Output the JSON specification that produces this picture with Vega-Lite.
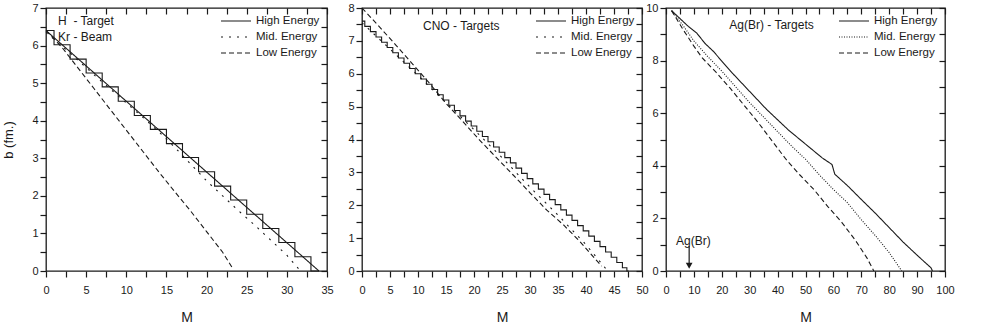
{
  "$schema": "https://vega.github.io/schema/vega-lite/v6.json",
  "padding": {"left": 2, "top": 1, "right": 0, "bottom": 0},
  "background": "white",
  "bounds": "flush",
  "spacing": 0,
  "config": {
    "font": "Liberation Sans",
    "view": {"stroke": "#1a1a1a", "strokeWidth": 1.3},
    "axis": {"grid": false, "domain": false, "ticks": true, "tickColor": "#1a1a1a", "tickWidth": 1.2, "tickSize": 6, "labelOverlap": false, "labelColor": "#1a1a1a", "titleColor": "#1a1a1a", "labelFontSize": 11, "titleFontSize": 14, "titleFontWeight": "normal", "labelFont": "Liberation Sans", "titleFont": "Liberation Sans"},
    "axisX": {"labelPadding": 7, "titlePadding": 15, "labelFlush": false},
    "axisY": {"labelPadding": 2, "titlePadding": 16, "titleFontSize": 13, "labelFlush": false},
    "legend": {"orient": "top-right", "offset": 7, "symbolType": "stroke", "symbolSize": 900, "symbolStrokeWidth": 1.1, "symbolStrokeColor": "#1a1a1a", "labelFontSize": 11.5, "labelColor": "#1a1a1a", "labelOffset": 4, "clipHeight": 12, "rowPadding": 4, "labelLimit": 200},
    "line": {"color": "#1a1a1a", "strokeWidth": 1.1},
    "text": {"color": "#1a1a1a"}
  },
  "resolve": {"scale": {"strokeDash": "independent"}, "legend": {"strokeDash": "independent"}},
  "datasets": {
    "p1": [
      {"series": "High Energy", "style": "line", "M": 0, "b": 6.4},
      {"series": "High Energy", "style": "line", "M": 34, "b": 0},
      {"series": "High Energy", "style": "step", "M": 0, "b": 6.4},
      {"series": "High Energy", "style": "step", "M": 2, "b": 6.02},
      {"series": "High Energy", "style": "step", "M": 4, "b": 5.64},
      {"series": "High Energy", "style": "step", "M": 6, "b": 5.27},
      {"series": "High Energy", "style": "step", "M": 8, "b": 4.9},
      {"series": "High Energy", "style": "step", "M": 10, "b": 4.52},
      {"series": "High Energy", "style": "step", "M": 12, "b": 4.14},
      {"series": "High Energy", "style": "step", "M": 14, "b": 3.77},
      {"series": "High Energy", "style": "step", "M": 16, "b": 3.39},
      {"series": "High Energy", "style": "step", "M": 18, "b": 3.02},
      {"series": "High Energy", "style": "step", "M": 20, "b": 2.64},
      {"series": "High Energy", "style": "step", "M": 22, "b": 2.26},
      {"series": "High Energy", "style": "step", "M": 24, "b": 1.89},
      {"series": "High Energy", "style": "step", "M": 26, "b": 1.51},
      {"series": "High Energy", "style": "step", "M": 28, "b": 1.13},
      {"series": "High Energy", "style": "step", "M": 30, "b": 0.76},
      {"series": "High Energy", "style": "step", "M": 32, "b": 0.38},
      {"series": "High Energy", "style": "step", "M": 34, "b": 0},
      {"series": "Mid. Energy", "style": "line", "M": 0, "b": 6.35},
      {"series": "Mid. Energy", "style": "line", "M": 3, "b": 5.8},
      {"series": "Mid. Energy", "style": "line", "M": 6, "b": 5.22},
      {"series": "Mid. Energy", "style": "line", "M": 9, "b": 4.66},
      {"series": "Mid. Energy", "style": "line", "M": 12, "b": 4.1},
      {"series": "Mid. Energy", "style": "line", "M": 14, "b": 3.72},
      {"series": "Mid. Energy", "style": "line", "M": 16, "b": 3.3},
      {"series": "Mid. Energy", "style": "line", "M": 18, "b": 2.85},
      {"series": "Mid. Energy", "style": "line", "M": 20, "b": 2.4},
      {"series": "Mid. Energy", "style": "line", "M": 22, "b": 2.0},
      {"series": "Mid. Energy", "style": "line", "M": 24, "b": 1.6},
      {"series": "Mid. Energy", "style": "line", "M": 26, "b": 1.22},
      {"series": "Mid. Energy", "style": "line", "M": 28, "b": 0.82},
      {"series": "Mid. Energy", "style": "line", "M": 30, "b": 0.42},
      {"series": "Mid. Energy", "style": "line", "M": 31.5, "b": 0.05},
      {"series": "Low Energy", "style": "line", "M": 0, "b": 6.4},
      {"series": "Low Energy", "style": "line", "M": 2, "b": 5.95},
      {"series": "Low Energy", "style": "line", "M": 4, "b": 5.4},
      {"series": "Low Energy", "style": "line", "M": 6, "b": 4.85},
      {"series": "Low Energy", "style": "line", "M": 8, "b": 4.3},
      {"series": "Low Energy", "style": "line", "M": 10, "b": 3.75},
      {"series": "Low Energy", "style": "line", "M": 12, "b": 3.2},
      {"series": "Low Energy", "style": "line", "M": 14, "b": 2.65},
      {"series": "Low Energy", "style": "line", "M": 16, "b": 2.12},
      {"series": "Low Energy", "style": "line", "M": 18, "b": 1.6},
      {"series": "Low Energy", "style": "line", "M": 20, "b": 1.05},
      {"series": "Low Energy", "style": "line", "M": 22, "b": 0.5},
      {"series": "Low Energy", "style": "line", "M": 23.3, "b": 0.05}
    ],
    "p2": [
      {"series": "High Energy", "style": "step", "M": 0, "b": 7.6},
      {"series": "High Energy", "style": "step", "M": 1, "b": 7.44},
      {"series": "High Energy", "style": "step", "M": 2, "b": 7.28},
      {"series": "High Energy", "style": "step", "M": 3, "b": 7.12},
      {"series": "High Energy", "style": "step", "M": 4, "b": 6.96},
      {"series": "High Energy", "style": "step", "M": 5, "b": 6.8},
      {"series": "High Energy", "style": "step", "M": 6, "b": 6.64},
      {"series": "High Energy", "style": "step", "M": 7, "b": 6.48},
      {"series": "High Energy", "style": "step", "M": 8, "b": 6.32},
      {"series": "High Energy", "style": "step", "M": 9, "b": 6.16},
      {"series": "High Energy", "style": "step", "M": 10, "b": 6.0},
      {"series": "High Energy", "style": "step", "M": 11, "b": 5.84},
      {"series": "High Energy", "style": "step", "M": 12, "b": 5.68},
      {"series": "High Energy", "style": "step", "M": 13, "b": 5.52},
      {"series": "High Energy", "style": "step", "M": 14, "b": 5.36},
      {"series": "High Energy", "style": "step", "M": 15, "b": 5.2},
      {"series": "High Energy", "style": "step", "M": 16, "b": 5.04},
      {"series": "High Energy", "style": "step", "M": 17, "b": 4.88},
      {"series": "High Energy", "style": "step", "M": 18, "b": 4.72},
      {"series": "High Energy", "style": "step", "M": 19, "b": 4.56},
      {"series": "High Energy", "style": "step", "M": 20, "b": 4.41},
      {"series": "High Energy", "style": "step", "M": 21, "b": 4.25},
      {"series": "High Energy", "style": "step", "M": 22, "b": 4.09},
      {"series": "High Energy", "style": "step", "M": 23, "b": 3.93},
      {"series": "High Energy", "style": "step", "M": 24, "b": 3.77},
      {"series": "High Energy", "style": "step", "M": 25, "b": 3.61},
      {"series": "High Energy", "style": "step", "M": 26, "b": 3.45},
      {"series": "High Energy", "style": "step", "M": 27, "b": 3.29},
      {"series": "High Energy", "style": "step", "M": 28, "b": 3.13},
      {"series": "High Energy", "style": "step", "M": 29, "b": 2.97},
      {"series": "High Energy", "style": "step", "M": 30, "b": 2.81},
      {"series": "High Energy", "style": "step", "M": 31, "b": 2.65},
      {"series": "High Energy", "style": "step", "M": 32, "b": 2.49},
      {"series": "High Energy", "style": "step", "M": 33, "b": 2.33},
      {"series": "High Energy", "style": "step", "M": 34, "b": 2.17},
      {"series": "High Energy", "style": "step", "M": 35, "b": 2.02},
      {"series": "High Energy", "style": "step", "M": 36, "b": 1.86},
      {"series": "High Energy", "style": "step", "M": 37, "b": 1.7},
      {"series": "High Energy", "style": "step", "M": 38, "b": 1.54},
      {"series": "High Energy", "style": "step", "M": 39, "b": 1.38},
      {"series": "High Energy", "style": "step", "M": 40, "b": 1.22},
      {"series": "High Energy", "style": "step", "M": 41, "b": 1.06},
      {"series": "High Energy", "style": "step", "M": 42, "b": 0.9},
      {"series": "High Energy", "style": "step", "M": 43, "b": 0.74},
      {"series": "High Energy", "style": "step", "M": 44, "b": 0.58},
      {"series": "High Energy", "style": "step", "M": 45, "b": 0.42},
      {"series": "High Energy", "style": "step", "M": 46, "b": 0.26},
      {"series": "High Energy", "style": "step", "M": 47, "b": 0.1},
      {"series": "High Energy", "style": "step", "M": 47.6, "b": 0},
      {"series": "Mid. Energy", "style": "line", "M": 0, "b": 7.55},
      {"series": "Mid. Energy", "style": "line", "M": 5, "b": 6.75},
      {"series": "Mid. Energy", "style": "line", "M": 10, "b": 5.95},
      {"series": "Mid. Energy", "style": "line", "M": 15, "b": 5.12},
      {"series": "Mid. Energy", "style": "line", "M": 20, "b": 4.3},
      {"series": "Mid. Energy", "style": "line", "M": 25, "b": 3.45},
      {"series": "Mid. Energy", "style": "line", "M": 30, "b": 2.55},
      {"series": "Mid. Energy", "style": "line", "M": 35, "b": 1.7},
      {"series": "Mid. Energy", "style": "line", "M": 40, "b": 0.8},
      {"series": "Mid. Energy", "style": "line", "M": 43.5, "b": 0.08},
      {"series": "Low Energy", "style": "line", "M": 0, "b": 8.0},
      {"series": "Low Energy", "style": "line", "M": 3, "b": 7.45},
      {"series": "Low Energy", "style": "line", "M": 6, "b": 6.88},
      {"series": "Low Energy", "style": "line", "M": 9, "b": 6.3},
      {"series": "Low Energy", "style": "line", "M": 12, "b": 5.72},
      {"series": "Low Energy", "style": "line", "M": 15, "b": 5.1},
      {"series": "Low Energy", "style": "line", "M": 18, "b": 4.55},
      {"series": "Low Energy", "style": "line", "M": 21, "b": 3.98},
      {"series": "Low Energy", "style": "line", "M": 24, "b": 3.45},
      {"series": "Low Energy", "style": "line", "M": 27, "b": 2.92},
      {"series": "Low Energy", "style": "line", "M": 30, "b": 2.38},
      {"series": "Low Energy", "style": "line", "M": 33, "b": 1.85},
      {"series": "Low Energy", "style": "line", "M": 36, "b": 1.4},
      {"series": "Low Energy", "style": "line", "M": 39, "b": 0.88},
      {"series": "Low Energy", "style": "line", "M": 42, "b": 0.3},
      {"series": "Low Energy", "style": "line", "M": 42.8, "b": 0.15}
    ],
    "p3": [
      {"series": "High Energy", "style": "line", "M": 2, "b": 9.9},
      {"series": "High Energy", "style": "line", "M": 5, "b": 9.6},
      {"series": "High Energy", "style": "line", "M": 8, "b": 9.3},
      {"series": "High Energy", "style": "line", "M": 11, "b": 9.05},
      {"series": "High Energy", "style": "line", "M": 14, "b": 8.65},
      {"series": "High Energy", "style": "line", "M": 17, "b": 8.35},
      {"series": "High Energy", "style": "line", "M": 20, "b": 7.98},
      {"series": "High Energy", "style": "line", "M": 24, "b": 7.5},
      {"series": "High Energy", "style": "line", "M": 28, "b": 7.05},
      {"series": "High Energy", "style": "line", "M": 32, "b": 6.6},
      {"series": "High Energy", "style": "line", "M": 36, "b": 6.15},
      {"series": "High Energy", "style": "line", "M": 40, "b": 5.75},
      {"series": "High Energy", "style": "line", "M": 44, "b": 5.35},
      {"series": "High Energy", "style": "line", "M": 48, "b": 5.0},
      {"series": "High Energy", "style": "line", "M": 52, "b": 4.65},
      {"series": "High Energy", "style": "line", "M": 56, "b": 4.3},
      {"series": "High Energy", "style": "line", "M": 59.5, "b": 4.05},
      {"series": "High Energy", "style": "line", "M": 60.5, "b": 3.68},
      {"series": "High Energy", "style": "line", "M": 65, "b": 3.25},
      {"series": "High Energy", "style": "line", "M": 70, "b": 2.72},
      {"series": "High Energy", "style": "line", "M": 75, "b": 2.2},
      {"series": "High Energy", "style": "line", "M": 80, "b": 1.65},
      {"series": "High Energy", "style": "line", "M": 85, "b": 1.1},
      {"series": "High Energy", "style": "line", "M": 90, "b": 0.6},
      {"series": "High Energy", "style": "line", "M": 95, "b": 0.12},
      {"series": "High Energy", "style": "line", "M": 95.5, "b": 0},
      {"series": "Mid. Energy", "style": "line", "M": 2, "b": 9.9},
      {"series": "Mid. Energy", "style": "line", "M": 6, "b": 9.35},
      {"series": "Mid. Energy", "style": "line", "M": 10, "b": 8.75},
      {"series": "Mid. Energy", "style": "line", "M": 15, "b": 8.15},
      {"series": "Mid. Energy", "style": "line", "M": 20, "b": 7.6},
      {"series": "Mid. Energy", "style": "line", "M": 25, "b": 7.0},
      {"series": "Mid. Energy", "style": "line", "M": 30, "b": 6.4},
      {"series": "Mid. Energy", "style": "line", "M": 35, "b": 5.85},
      {"series": "Mid. Energy", "style": "line", "M": 40, "b": 5.3},
      {"series": "Mid. Energy", "style": "line", "M": 45, "b": 4.75},
      {"series": "Mid. Energy", "style": "line", "M": 50, "b": 4.25},
      {"series": "Mid. Energy", "style": "line", "M": 55, "b": 3.65},
      {"series": "Mid. Energy", "style": "line", "M": 60, "b": 3.1},
      {"series": "Mid. Energy", "style": "line", "M": 65, "b": 2.6},
      {"series": "Mid. Energy", "style": "line", "M": 70, "b": 1.95},
      {"series": "Mid. Energy", "style": "line", "M": 75, "b": 1.35},
      {"series": "Mid. Energy", "style": "line", "M": 80, "b": 0.7},
      {"series": "Mid. Energy", "style": "line", "M": 84.5, "b": 0},
      {"series": "Low Energy", "style": "line", "M": 2, "b": 9.9},
      {"series": "Low Energy", "style": "line", "M": 6, "b": 9.2},
      {"series": "Low Energy", "style": "line", "M": 10, "b": 8.55},
      {"series": "Low Energy", "style": "line", "M": 13, "b": 8.1},
      {"series": "Low Energy", "style": "line", "M": 18, "b": 7.55},
      {"series": "Low Energy", "style": "line", "M": 23, "b": 6.95},
      {"series": "Low Energy", "style": "line", "M": 28, "b": 6.3},
      {"series": "Low Energy", "style": "line", "M": 33, "b": 5.65},
      {"series": "Low Energy", "style": "line", "M": 38, "b": 4.95},
      {"series": "Low Energy", "style": "line", "M": 43, "b": 4.25},
      {"series": "Low Energy", "style": "line", "M": 48, "b": 3.65},
      {"series": "Low Energy", "style": "line", "M": 53, "b": 3.1},
      {"series": "Low Energy", "style": "line", "M": 58, "b": 2.45},
      {"series": "Low Energy", "style": "line", "M": 63, "b": 1.85},
      {"series": "Low Energy", "style": "line", "M": 68, "b": 1.15},
      {"series": "Low Energy", "style": "line", "M": 72, "b": 0.5},
      {"series": "Low Energy", "style": "line", "M": 74.5, "b": 0}
    ],
    "a1": [
      {"label": "H\u00a0\u00a0- Target", "M": 1.5, "b": 6.65},
      {"label": "Kr - Beam", "M": 1.5, "b": 6.22}
    ],
    "a2": [
      {"label": "CNO - Targets", "M": 10.9, "b": 7.45}
    ],
    "a3": [
      {"label": "Ag(Br) - Targets", "M": 22.7, "b": 9.35},
      {"label": "Ag(Br)", "M": 3.6, "b": 1.14}
    ],
    "arrow": [
      {"M": 8.3, "b": 0.95, "b2": 0.2}
    ]
  },
  "hconcat": [
    {
      "width": 281,
      "height": 263,
      "layer": [
        {
          "data": {"name": "p1"},
          "transform": [{"filter": "datum.style == 'line'"}],
          "mark": {"type": "line"},
          "encoding": {
            "x": {"field": "M", "type": "quantitative", "scale": {"domain": [0, 35], "nice": false, "zero": false}, "axis": {"orient": "bottom", "title": "M", "ticks": true, "tickSize": 6, "labelOverlap": false, "values": [0, 2.5, 5, 7.5, 10, 12.5, 15, 17.5, 20, 22.5, 25, 27.5, 30, 32.5, 35], "labelExpr": "datum.value % 5 == 0 ? format(datum.value, 'd') : ''"}},
            "y": {"field": "b", "type": "quantitative", "scale": {"domain": [0, 7], "nice": false}, "axis": {"orient": "left", "title": "b (fm.)", "ticks": true, "tickSize": 6, "labelOverlap": false, "values": [0, 0.5, 1, 1.5, 2, 2.5, 3, 3.5, 4, 4.5, 5, 5.5, 6, 6.5, 7], "labelExpr": "datum.value % 1 == 0 ? format(datum.value, 'd') : ''"}},
            "strokeDash": {"field": "series", "type": "nominal", "sort": null, "scale": {"domain": ["High Energy", "Mid. Energy", "Low Energy"], "range": [[1, 0], [2, 6], [5, 3]]}, "legend": {"title": null, "clipHeight": 12, "rowPadding": 4}},
            "detail": {"field": "series"}
          }
        },
        {
          "data": {"name": "p1"},
          "transform": [{"filter": "datum.style == 'step'"}],
          "mark": {"type": "line", "interpolate": "step"},
          "encoding": {
            "x": {"field": "M", "type": "quantitative", "axis": null},
            "y": {"field": "b", "type": "quantitative", "axis": null},
            "strokeDash": {"field": "series", "type": "nominal", "sort": null},
            "detail": {"field": "series"}
          }
        },
        {
          "data": {"name": "a1"},
          "mark": {"type": "text", "align": "left", "baseline": "middle", "fontSize": 12},
          "encoding": {
            "x": {"field": "M", "type": "quantitative", "axis": null},
            "y": {"field": "b", "type": "quantitative", "axis": null},
            "text": {"field": "label"}
          }
        },
        {
          "data": {"name": "p1"},
          "mark": {"type": "point", "opacity": 0},
          "encoding": {
            "x": {"field": "M", "type": "quantitative", "axis": {"orient": "top", "labels": false, "title": null, "ticks": true, "tickSize": -6, "values": [0, 2.5, 5, 7.5, 10, 12.5, 15, 17.5, 20, 22.5, 25, 27.5, 30, 32.5, 35]}},
            "y": {"field": "b", "type": "quantitative", "axis": {"orient": "right", "labels": false, "title": null, "ticks": true, "tickSize": -6, "values": [0, 0.5, 1, 1.5, 2, 2.5, 3, 3.5, 4, 4.5, 5, 5.5, 6, 6.5, 7]}}
          }
        }
      ],
      "resolve": {"axis": {"x": "independent", "y": "independent"}}
    },
    {
      "width": 35,
      "height": 263,
      "view": {"stroke": null},
      "data": {"values": [{"t": ""}]},
      "mark": {"type": "text"},
      "encoding": {"text": {"field": "t"}}
    },
    {
      "width": 280,
      "height": 263,
      "layer": [
        {
          "data": {"name": "p2"},
          "transform": [{"filter": "datum.style == 'line'"}],
          "mark": {"type": "line"},
          "encoding": {
            "x": {"field": "M", "type": "quantitative", "scale": {"domain": [0, 50], "nice": false, "zero": false}, "axis": {"orient": "bottom", "title": "M", "ticks": true, "tickSize": 6, "labelOverlap": false, "values": [0, 2.5, 5, 7.5, 10, 12.5, 15, 17.5, 20, 22.5, 25, 27.5, 30, 32.5, 35, 37.5, 40, 42.5, 45, 47.5, 50], "labelExpr": "datum.value % 5 == 0 ? format(datum.value, 'd') : ''"}},
            "y": {"field": "b", "type": "quantitative", "scale": {"domain": [0, 8], "nice": false}, "axis": {"orient": "left", "title": null, "ticks": true, "tickSize": 6, "labelOverlap": false, "values": [0, 0.5, 1, 1.5, 2, 2.5, 3, 3.5, 4, 4.5, 5, 5.5, 6, 6.5, 7, 7.5, 8], "labelExpr": "datum.value % 1 == 0 ? format(datum.value, 'd') : ''"}},
            "strokeDash": {"field": "series", "type": "nominal", "sort": null, "scale": {"domain": ["High Energy", "Mid. Energy", "Low Energy"], "range": [[1, 0], [2, 6], [5, 3]]}, "legend": {"title": null, "clipHeight": 12, "rowPadding": 4}},
            "detail": {"field": "series"}
          }
        },
        {
          "data": {"name": "p2"},
          "transform": [{"filter": "datum.style == 'step'"}],
          "mark": {"type": "line", "interpolate": "step"},
          "encoding": {
            "x": {"field": "M", "type": "quantitative", "axis": null},
            "y": {"field": "b", "type": "quantitative", "axis": null},
            "strokeDash": {"field": "series", "type": "nominal", "sort": null},
            "detail": {"field": "series"}
          }
        },
        {
          "data": {"name": "a2"},
          "mark": {"type": "text", "align": "left", "baseline": "middle", "fontSize": 12},
          "encoding": {
            "x": {"field": "M", "type": "quantitative", "axis": null},
            "y": {"field": "b", "type": "quantitative", "axis": null},
            "text": {"field": "label"}
          }
        },
        {
          "data": {"name": "p2"},
          "mark": {"type": "point", "opacity": 0},
          "encoding": {
            "x": {"field": "M", "type": "quantitative", "axis": {"orient": "top", "labels": false, "title": null, "ticks": true, "tickSize": -6, "values": [0, 2.5, 5, 7.5, 10, 12.5, 15, 17.5, 20, 22.5, 25, 27.5, 30, 32.5, 35, 37.5, 40, 42.5, 45, 47.5, 50]}},
            "y": {"field": "b", "type": "quantitative", "axis": {"orient": "right", "labels": false, "title": null, "ticks": true, "tickSize": -6, "values": [0, 0.5, 1, 1.5, 2, 2.5, 3, 3.5, 4, 4.5, 5, 5.5, 6, 6.5, 7, 7.5, 8]}}
          }
        }
      ],
      "resolve": {"axis": {"x": "independent", "y": "independent"}}
    },
    {
      "width": 24,
      "height": 263,
      "view": {"stroke": null},
      "data": {"values": [{"t": ""}]},
      "mark": {"type": "text"},
      "encoding": {"text": {"field": "t"}}
    },
    {
      "width": 279,
      "height": 263,
      "layer": [
        {
          "data": {"name": "p3"},
          "transform": [{"filter": "datum.style == 'line'"}],
          "mark": {"type": "line"},
          "encoding": {
            "x": {"field": "M", "type": "quantitative", "scale": {"domain": [0, 100], "nice": false, "zero": false}, "axis": {"orient": "bottom", "title": "M", "ticks": true, "tickSize": 6, "labelOverlap": false, "values": [0, 5, 10, 15, 20, 25, 30, 35, 40, 45, 50, 55, 60, 65, 70, 75, 80, 85, 90, 95, 100], "labelExpr": "datum.value % 10 == 0 ? format(datum.value, 'd') : ''"}},
            "y": {"field": "b", "type": "quantitative", "scale": {"domain": [0, 10], "nice": false}, "axis": {"orient": "left", "title": null, "ticks": true, "tickSize": 6, "labelOverlap": false, "values": [0, 1, 2, 3, 4, 5, 6, 7, 8, 9, 10], "labelExpr": "datum.value % 2 == 0 ? format(datum.value, 'd') : ''"}},
            "strokeDash": {"field": "series", "type": "nominal", "sort": null, "scale": {"domain": ["High Energy", "Mid. Energy", "Low Energy"], "range": [[1, 0], [1, 1.5], [5, 3]]}, "legend": {"title": null, "clipHeight": 12, "rowPadding": 4}},
            "detail": {"field": "series"}
          }
        },
        {
          "data": {"name": "a3"},
          "mark": {"type": "text", "align": "left", "baseline": "middle", "fontSize": 12},
          "encoding": {
            "x": {"field": "M", "type": "quantitative", "axis": null},
            "y": {"field": "b", "type": "quantitative", "axis": null},
            "text": {"field": "label"}
          }
        },
        {
          "data": {"name": "arrow"},
          "mark": {"type": "rule", "color": "#1a1a1a", "strokeWidth": 1.2},
          "encoding": {
            "x": {"field": "M", "type": "quantitative", "axis": null},
            "y": {"field": "b", "type": "quantitative", "axis": null},
            "y2": {"field": "b2"}
          }
        },
        {
          "data": {"name": "arrow"},
          "mark": {"type": "point", "shape": "triangle-down", "filled": true, "color": "#1a1a1a", "size": 45, "opacity": 1},
          "encoding": {
            "x": {"field": "M", "type": "quantitative", "axis": null},
            "y": {"field": "b2", "type": "quantitative", "axis": null}
          }
        },
        {
          "data": {"name": "p3"},
          "mark": {"type": "point", "opacity": 0},
          "encoding": {
            "x": {"field": "M", "type": "quantitative", "axis": {"orient": "top", "labels": false, "title": null, "ticks": true, "tickSize": -6, "values": [0, 5, 10, 15, 20, 25, 30, 35, 40, 45, 50, 55, 60, 65, 70, 75, 80, 85, 90, 95, 100]}},
            "y": {"field": "b", "type": "quantitative", "axis": {"orient": "right", "labels": false, "title": null, "ticks": true, "tickSize": -6, "values": [0, 1, 2, 3, 4, 5, 6, 7, 8, 9, 10]}}
          }
        }
      ],
      "resolve": {"axis": {"x": "independent", "y": "independent"}}
    }
  ]
}
